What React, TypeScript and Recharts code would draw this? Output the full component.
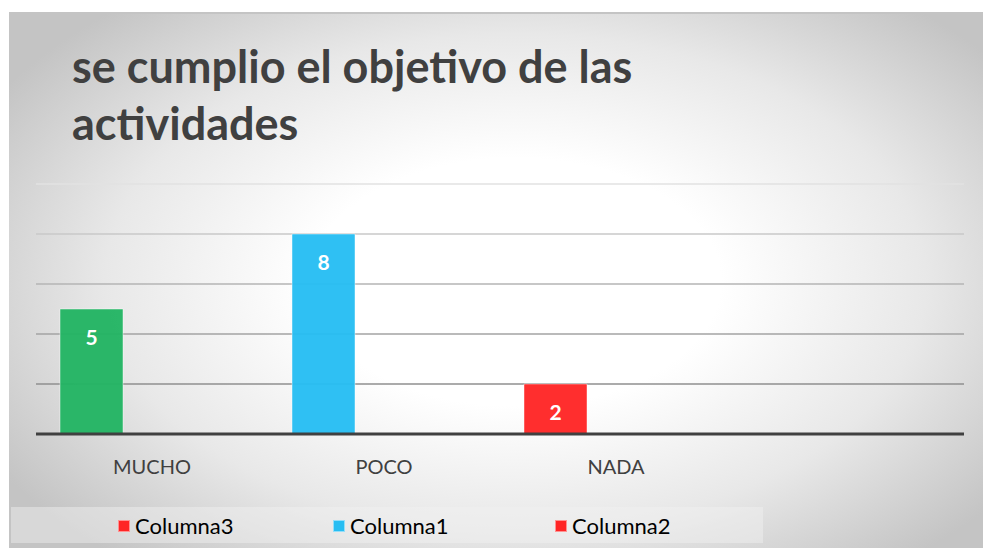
import React from 'react';
import { BarChart, Bar, XAxis, YAxis, CartesianGrid, LabelList, Cell } from 'recharts';

// categories (the 4th slot is empty in the original sheet)
const categories = ['MUCHO', 'POCO', 'NADA', ''];
const values = [5, 8, 2, null];
const barColors = ['#22b463', '#27bdf2', '#ff2525', '#ff2525'];
const yTicks = [0, 2, 4, 6, 8, 10];

const legendNames = ['Columna3', 'Columna1', 'Columna2'];
const legendColors = ['#ff2525', '#27bdf2', '#ff2525'];

const gridColors = ['#5a5a5a', '#8f8f8f', '#a3a3a3', '#b4b4b4', '#c9c9c9', '#e2e2e2'];

const FONT = 'Lato, "Open Sans", sans-serif';

export default function App() {
  const data = categories.map((name, i) => ({
    name,
    v: values[i],
    e1: null,
    e2: null,
  }));

  return (
    <div style={{ position: 'absolute', left: 0, top: 0, width: 983, height: 548, background: '#fff', fontFamily: FONT }}>
      <div
        style={{
          position: 'absolute',
          left: 9,
          top: 12,
          width: 974,
          height: 536,
          borderTop: '2px solid #c4c4c4',
          background: 'radial-gradient(ellipse 62% 68% at 52% 50%, #ffffff 0%, #ffffff 34%, #e8e8e8 68%, #c4c4c4 100%)',
        }}
      />
      <div
        style={{
          position: 'absolute',
          left: 72,
          top: 38,
          width: 760,
          fontSize: 45,
          lineHeight: '57px',
          fontWeight: 700,
          color: '#404040',
        }}
      >
        se cumplio el objetivo de las
        <br />
        actividades
      </div>

      <div style={{ position: 'absolute', left: 0, top: 0 }}>
        <BarChart
          width={983}
          height={548}
          data={data}
          margin={{ top: 184, right: 19, left: 36, bottom: 74 }}
          barGap={-2}
          barSize={63}
        >
          <CartesianGrid
            vertical={false}
            horizontal={(p: any) => (
              <line
                key={p.key}
                x1={p.x1}
                x2={p.x2}
                y1={p.y1}
                y2={p.y2}
                stroke={gridColors[p.index] ?? '#aaa'}
                strokeWidth={1.5}
              />
            )}
          />
          <YAxis hide domain={[0, 10]} ticks={yTicks} />
          <XAxis
            dataKey="name"
            height={40}
            tickLine={false}
            axisLine={{ stroke: '#404040', strokeWidth: 3 }}
            tick={{ fill: '#404040', fontSize: 20, fontFamily: FONT }}
            tickMargin={20}
            interval={0}
          />
          <Bar dataKey="v" isAnimationActive={false} fillOpacity={0.96} stroke="#ffffff" strokeOpacity={0.45} strokeWidth={1}>
            {data.map((d, i) => (
              <Cell key={d.name + i} fill={barColors[i]} />
            ))}
            <LabelList
              dataKey="v"
              position="insideTop"
              offset={21}
              fill="#ffffff"
              style={{ fontSize: 21, fontWeight: 700, fontFamily: FONT }}
            />
          </Bar>
          <Bar dataKey="e1" isAnimationActive={false} fill="#27bdf2" />
          <Bar dataKey="e2" isAnimationActive={false} fill="#ff2525" />
        </BarChart>
      </div>

      <div
        style={{
          position: 'absolute',
          left: 11,
          top: 507,
          width: 752,
          height: 36,
          background: 'rgba(242,242,242,0.45)',
        }}
      >
        {legendNames.map((n, i) => (
          <div
            key={n}
            style={{
              position: 'absolute',
              left: [107, 322, 544][i],
              top: 5,
              display: 'flex',
              alignItems: 'center',
              fontSize: 22,
              color: '#000',
            }}
          >
            <span
              style={{
                display: 'inline-block',
                width: 10,
                height: 10,
                background: legendColors[i],
                border: '1px solid rgba(255,255,255,0.5)',
                marginRight: 5,
              }}
            />
            {n}
          </div>
        ))}
      </div>
    </div>
  );
}
